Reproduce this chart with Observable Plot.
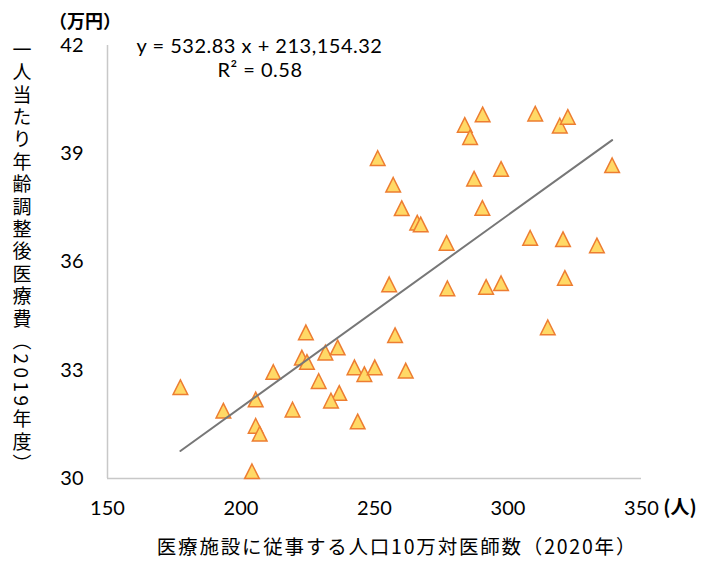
<!DOCTYPE html>
<html><head><meta charset="utf-8">
<script src="https://cdn.jsdelivr.net/npm/d3@7"></script>
<script src="https://cdn.jsdelivr.net/npm/@observablehq/plot@0.6"></script>
<style>
body{margin:0;background:#fff;}
#chart svg{display:block;}
</style>
</head><body><div id="chart"></div>
<script>
// 医療施設に従事する人口10万対医師数（2020年） [人]
const doctors = [177.3,193.4,205.5,205.5,207.0,204.1,212.1,219.3,224.3,222.8,224.7,231.6,236.2,229.1,236.8,233.7,242.5,246.2,250.1,243.7,255.5,257.7,261.7,251.2,257.0,260.2,266.0,267.3,277.0,277.3,283.8,285.8,287.3,290.5,290.4,291.8,297.4,297.4,308.3,310.2,314.9,319.4,320.6,321.3,322.4,333.3,339.0];
// 一人当たり年齢調整後医療費（2019年度） [万円]
const costs = [32.53,31.88,32.19,31.46,31.24,30.20,32.95,31.91,34.05,33.35,33.23,33.49,33.63,32.70,32.37,32.16,33.08,32.89,33.08,31.58,35.38,33.97,32.99,38.88,38.14,37.49,37.09,37.04,36.53,35.27,39.80,39.46,38.31,40.09,37.50,35.31,38.58,35.41,36.67,40.11,34.19,39.78,36.63,35.56,40.02,36.46,38.68];
const xTicks = [150,200,250,300,350];
const yTicks = [30,33,36,39,42];
// trendline from the chart's equation (yen): y = 532.83 x + 213,154.32
const slopeYen = 532.83, interceptYen = 213154.32;
const equationLabel = "y = 532.83 x + 213,154.32";
const r2Label = "R² = 0.58";
const yUnit = "（万円）";
const xUnit = "(人)";
const yTitle = "一人当たり年齢調整後医療費（2019年度）";
const xTitle = "医療施設に従事する人口10万対医師数（2020年）";

const points = doctors.map((d,i)=>({x:d, y:costs[i]}));
const xExt = d3.extent(doctors);
const trend = xExt.map(x=>({x, y:(slopeYen*x + interceptYen)/10000}));
const xDom = [xTicks[0], xTicks[xTicks.length-1]];
const yDom = [yTicks[0], yTicks[yTicks.length-1]];

const tri = { draw(ctx, size){ const r=Math.sqrt(size/Math.PI); const w=r*1.22, h=r*1.22; ctx.moveTo(0,-h); ctx.lineTo(w,h); ctx.lineTo(-w,h); ctx.closePath(); } };

const W=704, H=563, mL=107, mR=63, mT=45, mB=85;
const numFont = "Lato, 'Noto Sans CJK JP', sans-serif";
const jpFont = "'Noto Sans CJK JP', sans-serif";

const plot = Plot.plot({
  width:W, height:H, marginLeft:mL, marginRight:mR, marginTop:mT, marginBottom:mB,
  style:{fontFamily:numFont, fontSize:"20px", color:"#000", background:"#fff", overflow:"visible"},
  x:{domain:xDom, ticks:xTicks, tickSize:0, tickPadding:22, label:null},
  y:{domain:yDom, ticks:yTicks, tickSize:0, tickPadding:24, label:null},
  marks:[
    Plot.ruleX([xDom[0]], {stroke:"#c8c8c8", strokeWidth:1.5}),
    Plot.ruleY([yDom[0]], {stroke:"#c8c8c8", strokeWidth:1.5}),
    Plot.dot(points, {x:"x", y:"y", symbol:tri, r:6, fill:"#FFD966", stroke:"#ED7D31", strokeWidth:1.5}),
    Plot.line(trend, {x:"x", y:"y", stroke:"#777777", strokeWidth:2})
  ]
});
document.getElementById("chart").appendChild(plot);

const svg = d3.select(plot);
const g = svg.append("g").attr("fill","#000");
g.append("text").attr("x",259.5).attr("y",48).attr("text-anchor","middle").attr("dominant-baseline","middle")
  .style("font-family",numFont).style("font-size","20px").style("letter-spacing","0.5px").text(equationLabel);
g.append("text").attr("x",260).attr("y",72).attr("text-anchor","middle").attr("dominant-baseline","middle")
  .style("font-family",numFont).style("font-size","20px").style("letter-spacing","0.5px").text(r2Label);
g.append("text").attr("x",85).attr("y",23).attr("text-anchor","middle").attr("dominant-baseline","middle")
  .style("font-family",jpFont).style("font-size","18px").style("font-weight","bold").text(yUnit);
g.append("text").attr("x",680).attr("y",509).attr("text-anchor","middle").attr("dominant-baseline","middle")
  .style("font-family",jpFont).style("font-size","19px").style("font-weight","bold").text(xUnit);
g.append("text").attr("x",397).attr("y",549).attr("text-anchor","middle").attr("dominant-baseline","middle")
  .style("font-family",jpFont).style("font-size","19.5px").style("letter-spacing","1.8px").text(xTitle);
g.append("text").attr("x",22).attr("y",40).attr("text-anchor","start")
  .attr("writing-mode","vertical-rl").style("text-orientation","mixed")
  .style("font-family",jpFont).style("font-size","19px").style("letter-spacing","3.4px").text(yTitle);
</script>
</body></html>
